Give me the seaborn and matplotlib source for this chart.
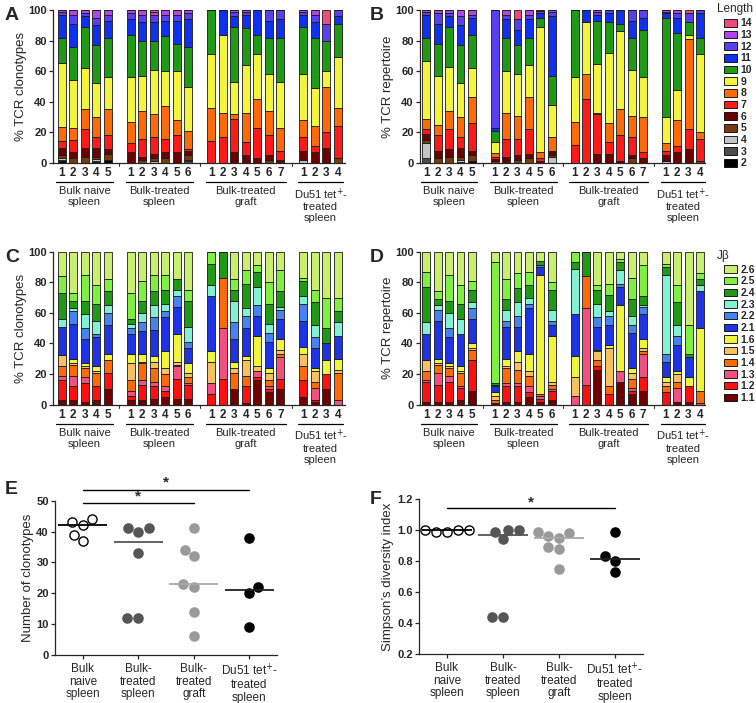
import numpy as np
import pandas as pd
import matplotlib
matplotlib.use('Agg')
import matplotlib.pyplot as plt
import matplotlib.transforms as mtransforms
from matplotlib.patches import Patch
import seaborn as sns

sns.set_style('ticks')
plt.rcParams['font.family'] = ['Liberation Sans', 'DejaVu Sans']
plt.rcParams['font.size'] = 8.5
plt.rcParams['axes.linewidth'] = 0.9

group_labels = ['Bulk naive\nspleen', 'Bulk-treated\nspleen', 'Bulk-treated\ngraft',
                'Du51 tet$^{+}$-\ntreated\nspleen']
group_sizes = [5, 6, 7, 4]

length_cats = ['2', '3', '4', '5', '6', '7', '8', '9', '10', '11', '12', '13', '14']
length_colors = ['#000000', '#4d4d4d', '#c4c4c4', '#7a3a0c', '#6b0000', '#ff1a1a', '#ff6a08',
                 '#f2f53c', '#1f9a14', '#1030f0', '#5a3ff2', '#b244f0', '#f2497d']
jb_cats = ['1.1', '1.2', '1.3', '1.4', '1.5', '1.6', '2.1', '2.2', '2.3', '2.4', '2.5', '2.6']
jb_colors = ['#6e0000', '#ff1010', '#f2507e', '#ff6a08', '#f7c162', '#eef53c', '#1e32e6',
             '#4682f0', '#82f0d2', '#1f9a14', '#80f040', '#c8f06e']

# cumulative segment tops (%), bottom -> top, per sample
A_cum = [
    [1, 2, 3, 5, 10, 14.5, 23.5, 65.5, 82, 96.5, 98.5, 100, 100],
    [0, 0, 0, 3, 7, 15, 23, 54.5, 76, 91, 97, 100, 100],
    [0, 0, 0, 4, 10, 22.5, 35, 62, 89, 96, 98, 100, 100],
    [0.5, 1.5, 2.5, 4, 10, 17, 30, 52, 77, 90, 95, 100, 100],
    [2, 2, 2, 6, 9, 18, 35, 56, 82, 93, 97, 100, 100],
    [0, 0, 0, 0, 7, 13, 27, 56, 84, 94, 98, 100, 100],
    [0, 0, 0, 2, 4, 16, 34, 57, 80, 92, 97, 100, 100],
    [0, 0, 1, 3, 6, 17, 32, 61, 80, 92, 97, 99, 100],
    [0, 0, 0, 3, 7, 16, 37, 60, 83, 93, 97, 100, 100],
    [0, 0, 0, 0, 7, 18, 28, 60, 78, 93, 97, 100, 100],
    [0, 1, 2, 5, 8, 9, 21, 50, 76, 94, 98, 100, 100],
    [0, 0, 0, 0, 0, 14.5, 36, 71.5, 100, 100, 100, 100, 100],
    [0, 0, 0, 0, 0, 17, 33, 83.5, 83.5, 100, 100, 100, 100],
    [0, 0, 0, 0, 7, 29, 32, 53, 89, 96, 99, 100, 100],
    [0, 0, 0, 0, 5, 14, 33, 64, 88, 97, 99, 100, 100],
    [0, 0, 0, 0, 3, 23, 42, 71, 84, 100, 100, 100, 100],
    [0, 0, 0, 2, 5, 18, 34, 58, 82, 93, 100, 100, 100],
    [0, 0, 0, 0, 2, 8, 23, 53, 82, 94, 100, 100, 100],
    [0, 0, 2, 2, 8, 17, 28, 58, 89, 97, 99, 100, 100],
    [0, 0, 0, 0, 7, 11, 24, 49, 82, 92, 97, 100, 100],
    [0, 0, 0, 0, 10, 20, 50, 60, 80, 80, 91, 91, 100],
    [0, 0, 0, 3, 3, 24, 36, 69, 91, 96, 100, 100, 100],
]
B_cum = [
    [0, 3, 13, 15, 19, 22, 29, 67, 82, 97, 99, 100, 100],
    [0, 0, 0, 3, 8, 18, 25, 57, 78, 91, 98, 100, 100],
    [0, 0, 0, 4, 9, 22, 34, 63, 89, 96, 98, 100, 100],
    [0, 0.5, 2, 4, 10, 17, 30, 52, 77, 90, 96, 100, 100],
    [1, 1, 1, 5, 8, 26, 43, 62, 84, 95, 97, 100, 100],
    [0, 0, 0, 1, 2.5, 4, 6.5, 14, 21, 23, 100, 100, 100],
    [0, 0, 0, 0, 4, 16, 33, 60, 82, 94, 97, 100, 100],
    [0, 0, 0, 2, 5, 16, 31, 58, 77, 87, 94, 94, 100],
    [0, 0, 0, 3, 6, 22, 43, 64, 82, 94, 97, 100, 100],
    [0, 0, 0, 0, 1, 3, 7, 89, 95, 98, 99.5, 100, 100],
    [0, 0, 4, 5, 7, 8, 17, 38, 57, 96, 99, 100, 100],
    [0, 0, 0, 0, 0, 12, 27, 56, 100, 100, 100, 100, 100],
    [0, 0, 0, 0, 0, 42, 58, 92, 92, 100, 100, 100, 100],
    [0, 0, 0, 0, 6, 32, 33, 65, 93, 97, 99, 100, 100],
    [0, 0, 0, 0, 6, 14, 26, 72, 92, 98, 100, 100, 100],
    [0, 0, 0, 0, 1, 18, 35, 86, 91, 100, 100, 100, 100],
    [0, 0, 0, 3, 5, 17, 31, 61, 82, 93, 100, 100, 100],
    [0, 0, 0, 0, 3, 7, 30, 56, 87, 95, 100, 100, 100],
    [0, 0, 1, 1, 5, 8, 13, 30, 95, 98, 99, 100, 100],
    [0, 0, 0, 0, 7, 11, 28, 48, 85, 95, 98, 100, 100],
    [0, 0, 0, 0, 9, 22, 81, 84, 92, 92, 98, 98, 100],
    [0, 0, 0, 1, 1, 16, 20, 71, 82, 98, 100, 100, 100],
]
C_cum = [
    [3, 16, 19, 25, 32.5, 32.5, 51, 51, 56, 73, 84, 100],
    [3, 12, 19, 26, 27, 30, 53, 61, 63, 68, 73, 100],
    [2, 14, 18, 24, 25, 27, 43, 50, 59, 68, 85, 100],
    [3, 12, 12.5, 21, 22, 25, 44, 46, 55, 66, 78, 100],
    [10, 21, 21, 29, 29, 33, 52, 60, 65, 74, 82, 100],
    [3, 6, 9, 16, 27, 33, 46, 50, 53, 56, 73, 100],
    [3, 13, 16, 27, 28, 33, 48, 54, 60, 68, 81, 100],
    [4, 12, 15, 24, 28, 32, 49, 57, 65, 74, 85, 100],
    [5, 9, 12, 20, 24, 35, 57, 61, 66, 75, 85, 100],
    [4, 17, 25, 26, 28, 46, 64, 71, 75, 82, 82, 100],
    [4, 13, 14, 18, 21, 27, 37, 41, 51, 68, 75, 100],
    [0, 7, 14, 14, 28, 35, 71, 71, 78, 92, 100, 100],
    [0, 17, 50, 83, 83, 83, 83, 83, 83, 100, 100, 100],
    [10, 10.5, 10.5, 21, 24, 28, 43, 54, 68, 75, 82, 100],
    [1, 12, 12, 19, 29, 32, 50, 58, 63, 79, 88, 100],
    [16, 18, 22, 22, 25, 45, 58, 65, 77, 87, 91, 100],
    [8, 10, 12, 16, 21, 24, 41, 47, 53, 66, 80, 100],
    [10, 17, 31, 33, 36, 43, 56, 62, 64, 74, 88, 100],
    [5, 16, 16, 25, 33, 38, 55, 66, 71, 81, 83, 100],
    [2, 3, 11, 15, 22, 24, 37, 44, 52, 67, 75, 100],
    [10, 20, 20, 20, 20, 29, 40, 40, 40, 50, 70, 100],
    [0, 0, 3, 21, 23, 30, 45, 45, 54, 61, 70, 100],
]
D_cum = [
    [2, 15, 16, 22, 29, 29, 46, 46, 54, 77, 87, 100],
    [2, 13, 21, 26, 27, 30, 55, 62, 65, 69, 74, 100],
    [2, 15, 19, 24, 25, 27, 44, 50, 60, 68, 85, 100],
    [3, 11, 12, 21, 22, 25, 46, 46, 56, 66, 78, 100],
    [9, 29, 29, 36, 37, 40, 56, 63, 67, 75, 81, 100],
    [1, 1, 1, 3, 6, 8, 12, 13, 13, 14, 93, 100],
    [2, 12, 14, 24, 25, 30, 51, 55, 62, 69, 82, 100],
    [2, 12, 14, 23, 28, 35, 51, 58, 67, 76, 86, 100],
    [5, 8, 12, 19, 22, 33, 63, 66, 70, 78, 87, 100],
    [2, 4, 6, 7, 7, 85, 90, 91, 91, 94, 94, 100],
    [3, 9, 10, 13, 15, 45, 52, 55, 62, 75, 80, 100],
    [0, 0, 6, 6, 18, 32, 59, 59, 89, 93, 100, 100],
    [0, 13, 63, 84, 84, 84, 84, 84, 84, 100, 100, 100],
    [23, 25, 25, 29, 35, 36, 51, 57, 66, 75, 78, 100],
    [0, 7, 7, 12, 37, 39, 52, 58, 61, 72, 79, 100],
    [15, 15, 22, 22, 22, 65, 77, 79, 88, 93, 95, 100],
    [7, 9, 11, 17, 21, 24, 47, 52, 58, 69, 83, 100],
    [9, 18, 33, 35, 37, 43, 59, 64, 65, 71, 91, 100],
    [0, 8, 8, 12, 15, 18, 28, 33, 85, 90, 92, 100],
    [2, 2, 11, 15, 20, 22, 39, 45, 52, 67, 78, 100],
    [2, 12, 12, 12, 12, 18, 31, 31, 31, 33, 52, 100],
    [0, 0, 1, 9, 9, 50, 74, 74, 78, 82, 86, 100],
]

# scatter panels
scatter_groups = ['naive', 'spleen', 'graft', 'du51']
scatter_ticklabels = ['Bulk\nnaive\nspleen', 'Bulk-\ntreated\nspleen', 'Bulk-\ntreated\ngraft',
                      'Du51 tet$^{+}$-\ntreated\nspleen']
E_naive = [43, 37, 42, 39, 44]
E_spleen = [41, 40, 41, 33, 12, 12]
E_graft = [41, 34, 32, 22, 23, 14, 6]
E_du51 = [38, 22, 20, 9]
F_naive = [1.0, 1.0, 0.99, 0.99, 1.0]
F_spleen = [1.0, 0.99, 0.94, 1.0, 0.44, 0.44]
F_graft = [0.98, 0.95, 0.96, 0.99, 0.89, 0.88, 0.75]
F_du51 = [0.99, 0.83, 0.80, 0.73]
face_colors = ['white', '#555555', '#9a9a9a', 'black']
median_colors = ['black', '#555555', '#aaaaaa', '#222222']

positions = []
start = 0
for n in group_sizes:
    positions += list(range(start, start + n))
    start += n + 1


def stacked_panel(ax, cum, cats, colors, ylabel, xlim, legend_title=None, legend_anchor=None):
    seg = np.diff(np.array(cum, dtype=float), axis=1, prepend=0)
    rows = []
    for p, s in zip(positions, seg):
        for c, v in zip(cats, s):
            if v > 0:
                rows.append((p, c, v))
    df = pd.DataFrame(rows, columns=['pos', 'cat', 'val'])
    sns.histplot(data=df, x='pos', weights='val', hue='cat', hue_order=cats[::-1],
                 palette=dict(zip(cats, colors)), multiple='stack', discrete=True,
                 shrink=0.7, alpha=1, edgecolor='#1a1a1a', linewidth=0.6,
                 legend=False, ax=ax)
    for patch in ax.patches:
        patch.set_clip_on(False)
    ax.set_xlim(*xlim)
    ax.set_ylim(0, 100)
    ax.set_yticks(range(0, 101, 20))
    ax.set_xticks([])
    ax.set_xlabel('')
    ax.set_ylabel(ylabel, fontsize=9.5, labelpad=1)
    for lab in ax.get_yticklabels():
        lab.set_fontweight('bold')
    ax.tick_params(axis='y', length=3, width=0.9, pad=1.5, labelsize=8)
    sns.despine(ax=ax)
    trans = mtransforms.blended_transform_factory(ax.transData, ax.transAxes)
    # small marks between groups
    for gap in [5, 12, 20]:
        ax.plot([gap, gap], [0, -0.02], transform=trans, color='#333', lw=0.8, clip_on=False)
    i = 0
    for lab, n in zip(group_labels, group_sizes):
        ps = positions[i:i + n]
        for k, p in enumerate(ps):
            ax.text(p, -0.065, str(k + 1), transform=trans, ha='center', va='center',
                    fontsize=8.5, fontweight='bold')
        ax.plot([ps[0] - 0.45, ps[-1] + 0.45], [-0.125, -0.125], transform=trans,
                color='black', lw=0.9, clip_on=False)
        ax.text((ps[0] + ps[-1]) / 2, -0.152, lab, transform=trans, ha='center', va='top',
                fontsize=8, linespacing=1.1)
        i += n
    if legend_title:
        handles = [Patch(facecolor=c, edgecolor='black', linewidth=0.6, label=l)
                   for l, c in zip(cats[::-1], colors[::-1])]
        leg = ax.legend(handles=handles, loc='upper left',
                        bbox_to_anchor=legend_anchor, frameon=False, handlelength=1.25,
                        handleheight=0.72, handletextpad=0.35, labelspacing=0.16,
                        borderpad=0, borderaxespad=0, fontsize=7.5)
        for t in leg.get_texts():
            t.set_fontweight('bold')
        ax.text(legend_anchor[0] - 0.025, legend_anchor[1] + 0.06, legend_title,
                transform=ax.transAxes, ha='left', va='center', fontsize=8.5)


def scatter_panel(ax, values, ylabel, ylim, yticks, fmt, bars):
    rows = []
    for g, vals in zip(scatter_groups, values):
        for v in vals:
            rows.append((g, v))
    df = pd.DataFrame(rows, columns=['group', 'val'])
    for g, fc in zip(scatter_groups, face_colors):
        sub = df[df['group'] == g]
        sns.swarmplot(data=sub, x='group', y='val', order=scatter_groups, color=fc,
                      edgecolor='black' if fc == 'white' else fc, linewidth=1,
                      size=6.6, ax=ax)
    for k, (vals, mc) in enumerate(zip(values, median_colors)):
        ax.hlines(np.median(vals), k - 0.44, k + 0.44, color=mc, lw=1.3, zorder=5)
    ax.set_xlim(-0.5, 3.5)
    ax.set_ylim(*ylim)
    ax.set_yticks(yticks)
    ax.set_yticklabels([fmt.format(t) for t in yticks], fontweight='bold')
    ax.set_xticks(range(4))
    ax.set_xticklabels(scatter_ticklabels, fontsize=8.5, linespacing=1.05)
    ax.set_xlabel('')
    ax.set_ylabel(ylabel, fontsize=9.5, labelpad=2)
    ax.tick_params(axis='y', length=3, width=0.9, pad=1.5, labelsize=8)
    ax.tick_params(axis='x', length=3, width=0.9, pad=3)
    sns.despine(ax=ax)
    for x0, x1, yl, ys in bars:
        ax.plot([x0, x1], [yl, yl], color='black', lw=1.0, clip_on=False)
        ax.text((x0 + x1) / 2, ys, '*', ha='center', va='center', fontsize=11,
                fontweight='bold', clip_on=False)


fig = plt.figure(figsize=(7.56, 7.03), dpi=100)
axA = fig.add_axes([0.0701, 0.7681, 0.386, 0.2176])
axB = fig.add_axes([0.5556, 0.7681, 0.377, 0.2176])
axC = fig.add_axes([0.0701, 0.4243, 0.386, 0.2177])
axD = fig.add_axes([0.5556, 0.4243, 0.377, 0.2177])
axE = fig.add_axes([0.0728, 0.0683, 0.2936, 0.2195])
axF = fig.add_axes([0.5542, 0.0697, 0.2963, 0.2205])

stacked_panel(axA, A_cum, length_cats, length_colors, '% TCR clonotypes', (-0.75, 24.6))
stacked_panel(axB, B_cum, length_cats, length_colors, '% TCR repertoire', (-0.55, 24.45),
              'Length', (1.067, 0.945))
stacked_panel(axC, C_cum, jb_cats, jb_colors, '% TCR clonotypes', (-0.75, 24.6))
stacked_panel(axD, D_cum, jb_cats, jb_colors, '% TCR repertoire', (-0.55, 24.45),
              'J\u03b2', (1.067, 0.915))

scatter_panel(axE, [E_naive, E_spleen, E_graft, E_du51], 'Number of clonotypes',
              (0, 50), [0, 10, 20, 30, 40, 50], '{:.0f}',
              [(0, 2, 49.3, 51.3), (0, 3, 53.6, 55.8)])
scatter_panel(axF, [F_naive, F_spleen, F_graft, F_du51], 'Simpson\u2019s diversity index',
              (0.2, 1.2), [0.2, 0.4, 0.6, 0.8, 1.0, 1.2], '{:.1f}',
              [(0, 3, 1.142, 1.175)])

for letter, x, y in [('A', 5, 15), ('B', 370, 15), ('C', 5, 258), ('D', 370, 258),
                     ('E', 5, 490), ('F', 370, 500)]:
    fig.text(x / 756, 1 - y / 703, letter, fontsize=14, fontweight='heavy', va='center',
             ha='left')

fig.savefig('out.png', dpi=100)
